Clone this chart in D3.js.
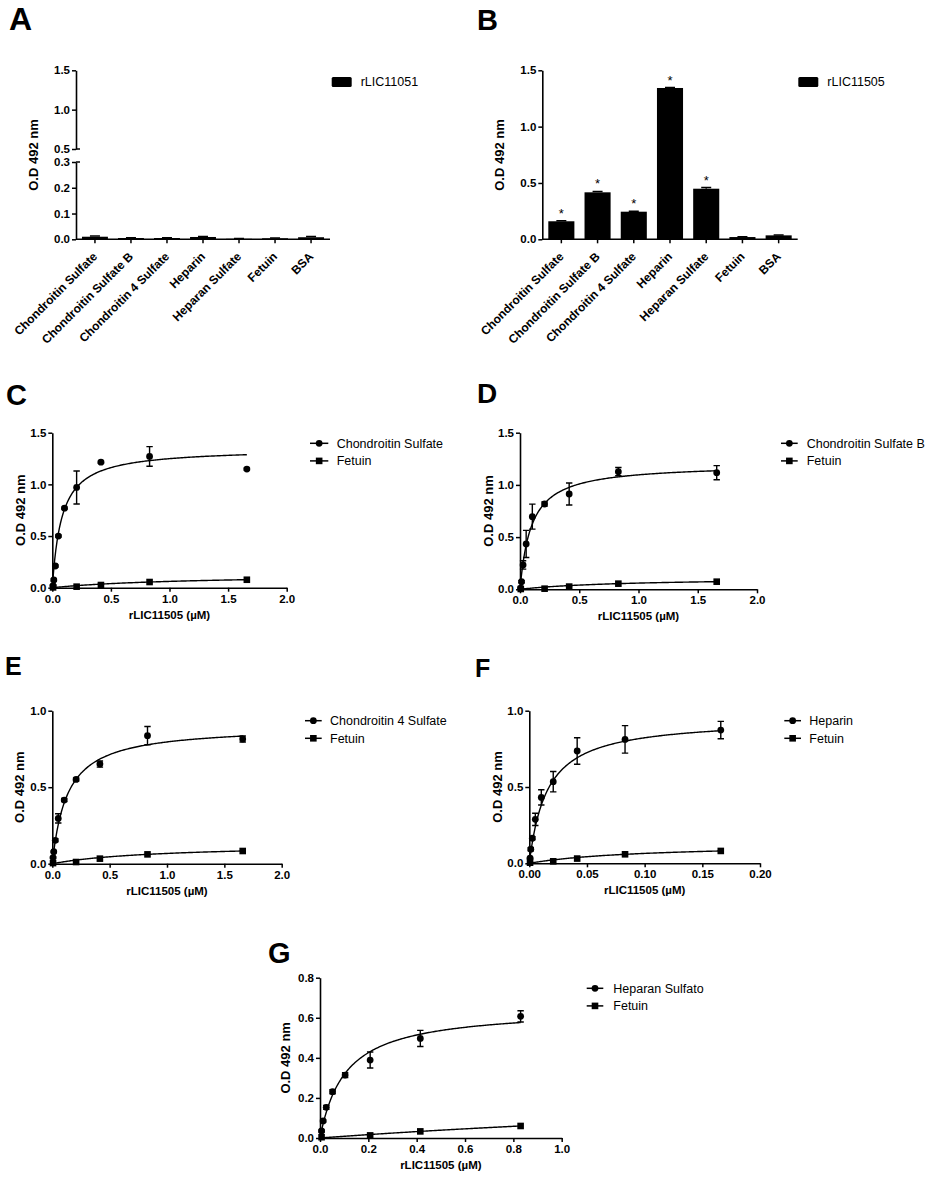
<!DOCTYPE html>
<html>
<head>
<meta charset="utf-8">
<script src="https://cdn.jsdelivr.net/npm/d3@7"></script>
<style>
  body { margin: 0; background: #fff; }
  svg { display: block; }
</style>
</head>
<body>
<svg id="fig" width="936" height="1182"></svg>
<script>
// ---- data ----
const categories = ["Chondroitin Sulfate", "Chondroitin Sulfate B", "Chondroitin 4 Sulfate",
  "Heparin", "Heparan Sulfate", "Fetuin", "BSA"];

const barsA = [0.010, 0.005, 0.005, 0.009, 0.002, 0.004, 0.008];
const errA  = [0.003, 0.001, 0.001, 0.002, 0.001, 0.001, 0.003];

const barsB = [0.160, 0.417, 0.245, 1.343, 0.449, 0.020, 0.035];
const errB  = [0.004, 0.008, 0.005, 0.004, 0.010, 0.002, 0.004];
const sigB  = [true, true, true, true, true, false, false];

// rLIC11505 concentrations (µM)
const conc    = [0.0065, 0.013, 0.026, 0.052, 0.104, 0.2075, 0.415, 0.83, 1.66];
const concF   = [0.00065, 0.0013, 0.0026, 0.0052, 0.0104, 0.02075, 0.0415, 0.083, 0.166];
const concG   = [0.0065, 0.013, 0.026, 0.052, 0.104, 0.2075, 0.415, 0.83];
const fetConc  = [0.0065, 0.2075, 0.415, 0.83, 1.66];
const fetConcF = [0.00065, 0.02075, 0.0415, 0.083, 0.166];
const fetConcG = [0.0065, 0.2075, 0.415, 0.83];

// C: Chondroitin Sulfate
const csMean  = [0.020, 0.075, 0.210, 0.500, 0.770, 0.970, 1.215, 1.270, 1.148];
const csErr   = [0.005, 0.010, 0.010, 0.010, 0.010, 0.160, 0.010, 0.095, 0.010];
const fetC    = [0.003, 0.010, 0.026, 0.055, 0.077];
// D: Chondroitin Sulfate B
const csbMean = [0.010, 0.073, 0.233, 0.434, 0.696, 0.817, 0.913, 1.127, 1.117];
const csbErr  = [0.005, 0.010, 0.040, 0.130, 0.120, 0.020, 0.105, 0.040, 0.068];
const fetD    = [0.003, 0.006, 0.026, 0.054, 0.073];
// E: Chondroitin 4 Sulfate
const c4sMean = [0.040, 0.078, 0.153, 0.296, 0.416, 0.551, 0.651, 0.837, 0.815];
const c4sErr  = [0.005, 0.005, 0.010, 0.030, 0.010, 0.010, 0.020, 0.060, 0.020];
const fetE    = [0.004, 0.011, 0.033, 0.061, 0.083];
// F: Heparin
const hepMean = [0.033, 0.092, 0.164, 0.288, 0.432, 0.535, 0.736, 0.812, 0.873];
const hepErr  = [0.005, 0.010, 0.010, 0.040, 0.050, 0.067, 0.087, 0.090, 0.057];
const fetF    = [0.004, 0.013, 0.031, 0.059, 0.081];
// G: Heparan Sulfato
const hsMean  = [0.035, 0.085, 0.153, 0.231, 0.314, 0.389, 0.497, 0.607];
const hsErr   = [0.005, 0.005, 0.010, 0.010, 0.012, 0.040, 0.040, 0.028];
const fetG    = [0.004, 0.013, 0.033, 0.060];

// one-site binding fits [Bmax, Kd] estimated from the drawn curves
const fitC = { main: [1.35, 0.081], fet: [0.134, 1.195] };
const fitD = { main: [1.201, 0.0954], fet: [0.113, 0.90] };
const fitE = { main: [0.90, 0.131], fet: [0.13, 0.936] };
const fitF = { main: [0.95, 0.0155], fet: [0.129, 0.099] };
const fitG = { main: [0.649, 0.105], fet: [0.33, 3.73] };

const ticks20 = [0, 0.5, 1.0, 1.5, 2.0];
const ticks02 = [0, 0.05, 0.10, 0.15, 0.20];
const ticks10 = [0, 0.2, 0.4, 0.6, 0.8, 1.0];

// ---- drawing ----
const FONT = '"Liberation Sans", Arial, Helvetica, sans-serif';
const svg = d3.select("#fig").style("font-family", FONT);

function styleAxis(sel) {
  sel.select(".domain").attr("stroke", "#000").attr("stroke-width", 1.6);
  sel.selectAll(".tick line").attr("stroke", "#000").attr("stroke-width", 1.5);
  sel.selectAll(".tick text")
    .attr("fill", "#000")
    .style("font-family", FONT)
    .style("font-size", "11.5px")
    .style("font-weight", "bold");
}

function panelLabel(txt, x, y, size) {
  svg.append("text").attr("x", x).attr("y", y).text(txt)
    .style("font-size", size + "px").style("font-weight", "bold");
}

function yTitle(x, y) {
  svg.append("text")
    .attr("transform", `translate(${x},${y}) rotate(-90)`)
    .attr("text-anchor", "middle").attr("dy", "0.35em")
    .style("font-size", "13px").style("font-weight", "bold")
    .text("O.D 492 nm");
}

function drawBars(p) {
  const x = d3.scaleBand().domain(categories).range([p.x0, p.x1])
    .paddingInner(0.28).paddingOuter(0.166);
  const g = svg.append("g");

  g.selectAll("rect.bar").data(p.values).join("rect")
    .attr("class", "bar")
    .attr("x", (d, i) => x(categories[i]))
    .attr("width", x.bandwidth())
    .attr("y", d => p.y(d))
    .attr("height", d => p.y0 - p.y(d))
    .attr("fill", "#000");

  // error bars (upper only)
  g.selectAll("path.err").data(p.values).join("path")
    .attr("class", "err")
    .attr("d", (d, i) => {
      const cx = x(categories[i]) + x.bandwidth() / 2;
      const top = p.y(d + p.err[i]);
      return `M${cx},${p.y(d)}V${top}M${cx - 5},${top}H${cx + 5}`;
    })
    .attr("stroke", "#000").attr("stroke-width", 1.5).attr("fill", "none");

  if (p.sig) {
    g.selectAll("text.star").data(p.values).join("text")
      .attr("class", "star")
      .attr("x", (d, i) => x(categories[i]) + x.bandwidth() / 2)
      .attr("y", (d, i) => p.y(d + p.err[i]) - 3)
      .attr("text-anchor", "middle")
      .style("font-size", "13px")
      .text((d, i) => p.sig[i] ? "*" : "");
  }

  // category axis
  const xa = g.append("g").attr("transform", `translate(0,${p.y0})`)
    .call(d3.axisBottom(x).tickSize(4).tickSizeOuter(0).tickFormat(""))
    .call(styleAxis);
  xa.select(".domain").attr("d", `M${p.x0},0H${p.x1}`);

  g.selectAll("text.cat").data(categories).join("text")
    .attr("class", "cat")
    .attr("transform", d => `translate(${x(d) + x.bandwidth() / 2 + 3},${p.y0 + 18}) rotate(-45)`)
    .attr("text-anchor", "end")
    .style("font-size", "12px").style("font-weight", "bold")
    .text(d => d);

  // legend
  g.append("rect").attr("x", p.leg[0]).attr("y", p.leg[1] - 5)
    .attr("width", 20).attr("height", 10).attr("rx", 1.5).attr("fill", "#000");
  g.append("text").attr("x", p.leg[0] + 29).attr("y", p.leg[1]).attr("dy", "0.35em")
    .style("font-size", "12.5px").text(p.series);
}

function binding(fit, v) { return fit[0] * v / (fit[1] + v); }

function marker(sel, shape, cx, cy) {
  if (shape === "circle") {
    sel.append("circle").attr("cx", cx).attr("cy", cy).attr("r", 3.4).attr("fill", "#000");
  } else {
    sel.append("rect").attr("x", cx - 3.3).attr("y", cy - 3.3)
      .attr("width", 6.6).attr("height", 6.6).attr("fill", "#000");
  }
}

function drawCurves(p) {
  const x = d3.scaleLinear().domain([0, p.xTicks[p.xTicks.length - 1]]).range([p.x0, p.x1]);
  const y = d3.scaleLinear().domain([0, p.yTicks[p.yTicks.length - 1]]).range([p.y0, p.y1]);
  const g = svg.append("g");

  g.append("g").attr("transform", `translate(0,${p.y0})`)
    .call(d3.axisBottom(x).tickValues(p.xTicks).tickFormat(d3.format(p.xFmt))
      .tickSize(4).tickSizeOuter(0).tickPadding(3))
    .call(styleAxis);
  g.append("g").attr("transform", `translate(${p.x0},0)`)
    .call(d3.axisLeft(y).tickValues(p.yTicks).tickFormat(d3.format(".1f"))
      .tickSize(4).tickSizeOuter(0).tickPadding(2))
    .call(styleAxis);

  svg.append("text")
    .attr("x", (p.x0 + p.x1) / 2).attr("y", p.y0 + 31)
    .attr("text-anchor", "middle")
    .style("font-size", "11.5px").style("font-weight", "bold")
    .text("rLIC11505 (µM)");
  yTitle(p.x0 - p.titleOff, (p.y0 + p.y1) / 2);

  const line = d3.line().x(d => x(d[0])).y(d => y(d[1]));

  const series = [
    { fit: p.fit.fet, xs: p.fetConc, vals: p.fet, errs: null, shape: "square" },
    { fit: p.fit.main, xs: p.conc, vals: p.main, errs: p.err, shape: "circle" }
  ];
  series.forEach(s => {
    const xsCurve = x.copy().domain([0, d3.max(s.xs)]).ticks(200);
    g.append("path")
      .attr("d", line(xsCurve.map(v => [v, binding(s.fit, v)])))
      .attr("fill", "none").attr("stroke", "#000").attr("stroke-width", 1.4);
    if (s.errs) {
      g.selectAll(null).data(s.vals).join("path")
        .attr("d", (d, i) => {
          const cx = x(s.xs[i]), lo = y(d - s.errs[i]), hi = y(d + s.errs[i]);
          return `M${cx},${lo}V${hi}M${cx - 3.2},${hi}H${cx + 3.2}M${cx - 3.2},${lo}H${cx + 3.2}`;
        })
        .attr("stroke", "#000").attr("stroke-width", 1.4).attr("fill", "none");
    }
    s.vals.forEach((d, i) => marker(g, s.shape, x(s.xs[i]), y(d)));
  });

  // legend
  const L = p.leg;
  [[p.name, "circle", L.y], ["Fetuin", "square", L.y + 17.6]].forEach(([name, shape, ly]) => {
    g.append("line").attr("x1", L.x0).attr("x2", L.x1).attr("y1", ly).attr("y2", ly)
      .attr("stroke", "#000").attr("stroke-width", 1.5);
    marker(g, shape, (L.x0 + L.x1) / 2, ly);
    g.append("text").attr("x", L.tx).attr("y", ly).attr("dy", "0.35em")
      .style("font-size", "12.5px").text(name);
  });
}

// ---- panel A (broken y axis) ----
{
  const x0 = 76, x1 = 330, y0 = 239.3;
  const yLow = d3.scaleLinear().domain([0, 0.3]).range([y0, 162]);
  const yHigh = d3.scaleLinear().domain([0.5, 1.5]).range([149, 70.3]);
  svg.append("g").attr("transform", `translate(${x0},0)`)
    .call(d3.axisLeft(yLow).tickValues([0, 0.1, 0.2, 0.3]).tickFormat(d3.format(".1f"))
      .tickSize(4).tickSizeOuter(0).tickPadding(2))
    .call(styleAxis);
  svg.append("g").attr("transform", `translate(${x0},0)`)
    .call(d3.axisLeft(yHigh).tickValues([0.5, 1.0, 1.5]).tickFormat(d3.format(".1f"))
      .tickSize(4).tickSizeOuter(0).tickPadding(2))
    .call(styleAxis);
  [yLow(0.3), yHigh(0.5)].forEach(v => svg.append("line")
    .attr("x1", x0).attr("x2", x0 + 4).attr("y1", v).attr("y2", v)
    .attr("stroke", "#000").attr("stroke-width", 1.5));
  drawBars({ x0, x1, y0, y: v => v <= 0.3 ? yLow(v) : yHigh(v),
    values: barsA, err: errA, sig: null, series: "rLIC11051", leg: [331.7, 82] });
  yTitle(x0 - 43, 155);
  panelLabel("A", 9, 30, 32);
}

// ---- panel B ----
{
  const x0 = 542.3, x1 = 797.7, y0 = 239.3;
  const y = d3.scaleLinear().domain([0, 1.5]).range([y0, 70.3]);
  svg.append("g").attr("transform", `translate(${x0},0)`)
    .call(d3.axisLeft(y).tickValues([0, 0.5, 1.0, 1.5]).tickFormat(d3.format(".1f"))
      .tickSize(4).tickSizeOuter(0).tickPadding(2))
    .call(styleAxis);
  drawBars({ x0, x1, y0, y, values: barsB, err: errB, sig: sigB,
    series: "rLIC11505", leg: [798.3, 82] });
  yTitle(x0 - 43, 155);
  panelLabel("B", 477, 30, 29);
}

// ---- binding curve panels ----
drawCurves({ x0: 52.3, x1: 286.7, y0: 587.7, y1: 432.7, xTicks: ticks20, xFmt: ".1f",
  yTicks: [0, 0.5, 1.0, 1.5], conc, main: csMean, err: csErr, fetConc, fet: fetC, fit: fitC,
  name: "Chondroitin Sulfate", titleOff: 32, leg: { x0: 310, x1: 328.3, tx: 336.7, y: 443.3 } });
panelLabel("C", 6, 405, 29);

drawCurves({ x0: 520, x1: 757, y0: 589.3, y1: 432.7, xTicks: ticks20, xFmt: ".1f",
  yTicks: [0, 0.5, 1.0, 1.5], conc, main: csbMean, err: csbErr, fetConc, fet: fetD, fit: fitD,
  name: "Chondroitin Sulfate B", titleOff: 32, leg: { x0: 781, x1: 797.7, tx: 806.7, y: 443.3 } });
panelLabel("D", 477, 403, 28);

drawCurves({ x0: 52.3, x1: 281.7, y0: 863.7, y1: 710.7, xTicks: ticks20, xFmt: ".1f",
  yTicks: [0, 0.5, 1.0], conc, main: c4sMean, err: c4sErr, fetConc, fet: fetE, fit: fitE,
  name: "Chondroitin 4 Sulfate", titleOff: 33, leg: { x0: 305, x1: 321.7, tx: 330, y: 720.7 } });
panelLabel("E", 5, 675, 25);

drawCurves({ x0: 529.3, x1: 760, y0: 863.3, y1: 710.7, xTicks: ticks02, xFmt: ".2f",
  yTicks: [0, 0.5, 1.0], conc: concF, main: hepMean, err: hepErr, fetConc: fetConcF, fet: fetF, fit: fitF,
  name: "Heparin", titleOff: 32, leg: { x0: 784.3, x1: 801, tx: 809.3, y: 720.7 } });
panelLabel("F", 475, 677, 25);

drawCurves({ x0: 320, x1: 561.7, y0: 1138, y1: 977.7, xTicks: ticks10, xFmt: ".1f",
  yTicks: [0, 0.2, 0.4, 0.6, 0.8], conc: concG, main: hsMean, err: hsErr, fetConc: fetConcG, fet: fetG, fit: fitG,
  name: "Heparan Sulfato", titleOff: 35, leg: { x0: 586.7, x1: 603.3, tx: 613.3, y: 988.3 } });
panelLabel("G", 268, 963, 29);
</script>
</body>
</html>
